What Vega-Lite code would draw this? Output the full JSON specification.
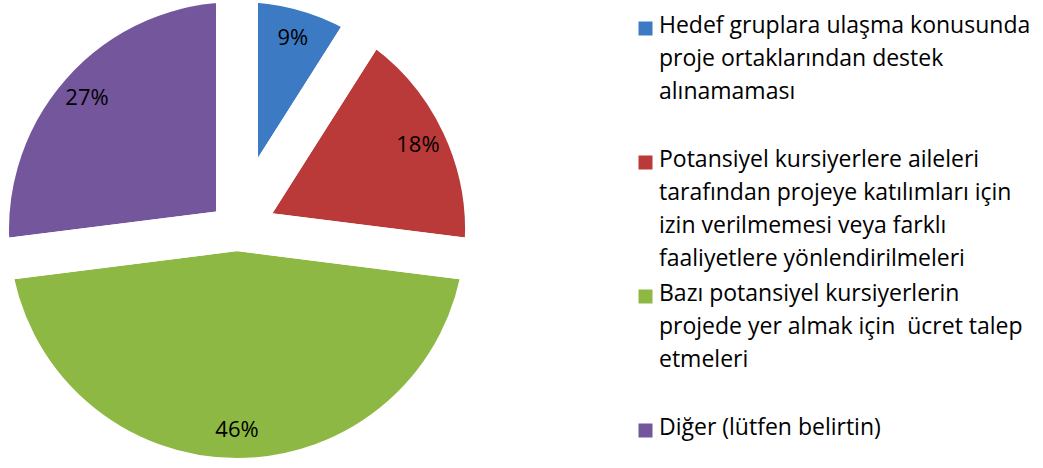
{
  "$schema": "https://vega.github.io/schema/vega-lite/v6.json",
  "width": 474,
  "height": 460,
  "autosize": "none",
  "padding": {"left": 0, "top": 0, "right": 569, "bottom": 8},
  "background": "white",
  "config": {"view": {"stroke": null}},
  "data": {
    "values": [
      {"cause": "Hedef gruplara ulaşma konusunda proje ortaklarından destek alınamaması", "share": 0.09, "order": 1},
      {"cause": "Potansiyel kursiyerlere aileleri tarafından projeye katılımları için izin verilmemesi veya farklı faaliyetlere yönlendirilmeleri", "share": 0.18, "order": 2},
      {"cause": "Bazı potansiyel kursiyerlerin projede yer almak için  ücret talep etmeleri", "share": 0.46, "order": 3},
      {"cause": "Diğer (lütfen belirtin)", "share": 0.27, "order": 4}
    ]
  },
  "encoding": {
    "theta": {"field": "share", "type": "quantitative", "stack": true},
    "order": {"field": "order", "type": "quantitative"},
    "color": {
      "field": "cause",
      "type": "nominal",
      "scale": {
        "domain": [
          "Hedef gruplara ulaşma konusunda proje ortaklarından destek alınamaması",
          "Potansiyel kursiyerlere aileleri tarafından projeye katılımları için izin verilmemesi veya farklı faaliyetlere yönlendirilmeleri",
          "Bazı potansiyel kursiyerlerin projede yer almak için  ücret talep etmeleri",
          "Diğer (lütfen belirtin)"
        ],
        "range": ["#3C7AC4", "#B93A38", "#8DB844", "#74569C"]
      },
      "legend": {
        "title": null,
        "orient": "none",
        "legendX": 634,
        "legendY": 17,
        "symbolType": "square",
        "symbolSize": 196,
        "symbolStrokeWidth": 0,
        "labelFont": "Open Sans",
        "labelFontSize": 23,
        "labelColor": "#000000",
        "labelLimit": 600,
        "labelOffset": 2,
        "labelBaseline": "top",
        "rowPadding": 11,
        "labelExpr": "indexof(datum.label,'Hedef')==0 ? ['Hedef gruplara ulaşma konusunda','proje ortaklarından destek','alınamaması',''] : indexof(datum.label,'Potansiyel')==0 ? ['Potansiyel kursiyerlere aileleri','tarafından projeye katılımları için','izin verilmemesi veya farklı','faaliyetlere yönlendirilmeleri'] : indexof(datum.label,'Bazı')==0 ? ['Bazı potansiyel kursiyerlerin','projede yer almak için\u00a0 ücret talep','etmeleri',''] : datum.label",
        "encode": {
          "labels": {"update": {"lineHeight": {"value": 33}, "dy": {"value": -14}}}
        }
      }
    }
  },
  "layer": [
    {"mark": {"type": "arc", "outerRadius": 249}},
    {"mark": {"type": "arc", "outerRadius": 249, "fillOpacity": 0, "stroke": "white", "strokeWidth": 42, "strokeJoin": "round"}},
    {
      "mark": {"type": "text", "radius": 200, "font": "Open Sans", "fontSize": 22},
      "encoding": {
        "text": {"field": "share", "type": "quantitative", "format": ".0%"},
        "color": {"value": "#000000"}
      }
    }
  ]
}
